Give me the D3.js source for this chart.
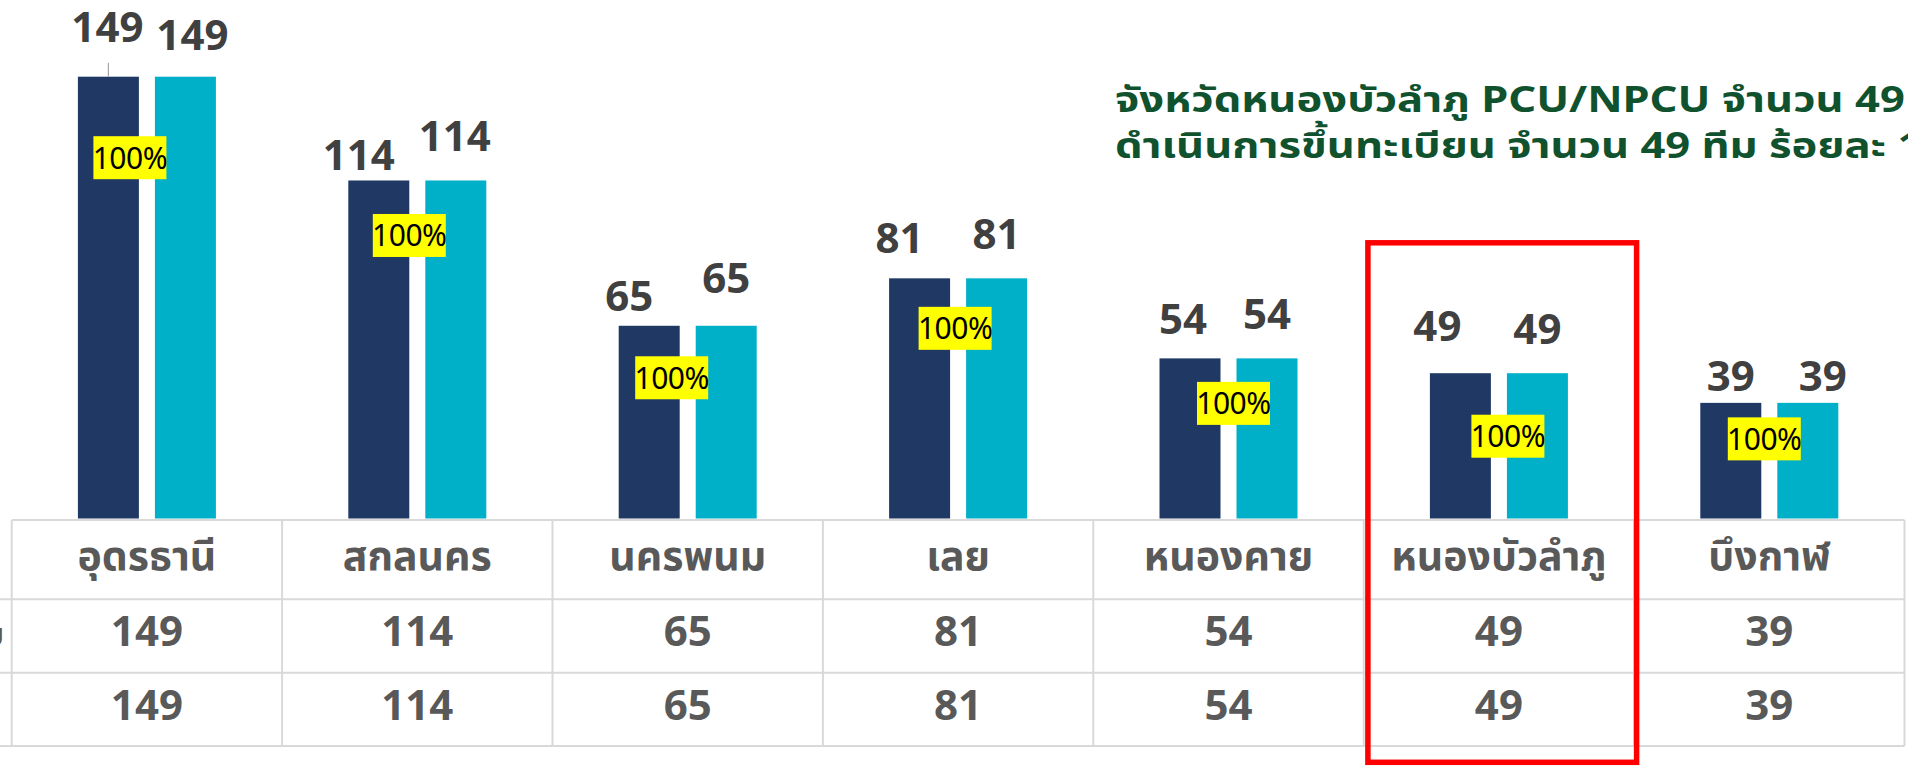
<!DOCTYPE html>
<html>
<head>
<meta charset="utf-8">
<script src="https://cdn.jsdelivr.net/npm/d3@7"></script>
<style>
  body { margin: 0; background: #fff; }
  svg { display: block; font-family: "Noto Sans", "Noto Sans Thai", sans-serif; }
</style>
</head>
<body>
<div id="chart"></div>
<script>

// Chart data
var provinces   = ["อุดรธานี", "สกลนคร", "นครพนม", "เลย", "หนองคาย", "หนองบัวลำภู", "บึงกาฬ"];
var teamsTotal  = [149, 114, 65, 81, 54, 49, 39];
var teamsReg    = [149, 114, 65, 81, 54, 49, 39];
var seriesNames = ["จำนวนทีม", "ขึ้นทะเบียน"];
var highlight   = "หนองบัวลำภู";
var titleLines  = [
  "จังหวัดหนองบัวลำภู PCU/NPCU จำนวน 49 ทีม",
  "ดำเนินการขึ้นทะเบียน จำนวน 49 ทีม ร้อยละ 100"
];

// Label nudges (dx, dy) - the labels were dragged by hand in the original
var darkNudge = [[-1, -35], [-20, -10], [-20, -15], [-20, -25], [-7, -24], [-23, -32], [0, -12]];
var cyanNudge = [[7, -27], [-1, -29], [0, -33], [0, -29], [0, -29], [0, -29], [15, -12]];
var pctNudge  = [[-17, 81], [-8, 55], [-16, 52], [-3, 50], [5, 45], [9, 63], [-5, 36]];

var W = 1908, H = 768;
var colors = ["#203864", "#00afc8"];

var svg = d3.select("#chart").append("svg")
  .attr("width", W)
  .attr("height", H);

var data = provinces.map(function(p, i) {
  return { name: p, vals: [teamsTotal[i], teamsReg[i]], i: i };
});

// Scales
var x0 = d3.scaleBand()
  .domain(provinces)
  .range([11.7, 1904.5])
  .padding(0);

var x1 = d3.scaleBand()
  .domain([0, 1])
  .range([-69, 69])
  .paddingInner(0.208);

var y = d3.scaleLinear()
  .domain([0, 149])
  .range([518.5, 76.7]);

// Title (the original font is wider, so stretch it a bit)
var title = svg.append("g")
  .attr("transform", "translate(1115,0) scale(1.21,1)");
titleLines.forEach(function(t, i) {
  title.append("text")
    .attr("x", 0)
    .attr("y", 112 + i * 46)
    .style("font-size", "36px")
    .style("font-weight", "bold")
    .style("fill", "#11522e")
    .text(t);
});

// Bars
var groups = svg.selectAll(".grp")
  .data(data)
  .enter().append("g")
  .attr("class", "grp")
  .attr("transform", function(d) { return "translate(" + (x0(d.name) + x0.bandwidth() / 2) + ",0)"; });

groups.selectAll("rect")
  .data(function(d) { return d.vals.map(function(v, k) { return { v: v, k: k }; }); })
  .enter().append("rect")
  .attr("x", function(d) { return x1(d.k); })
  .attr("y", function(d) { return y(d.v); })
  .attr("width", x1.bandwidth())
  .attr("height", function(d) { return y(0) - y(d.v); })
  .style("fill", function(d) { return colors[d.k]; });

// leader line on first dark label
svg.append("line")
  .attr("x1", x0(provinces[0]) + x0.bandwidth() / 2 + x1(0) + x1.bandwidth() / 2)
  .attr("x2", x0(provinces[0]) + x0.bandwidth() / 2 + x1(0) + x1.bandwidth() / 2)
  .attr("y1", y(teamsTotal[0]) - 14)
  .attr("y2", y(teamsTotal[0]))
  .style("stroke", "#a6a6a6")
  .style("stroke-width", 1.2);

// Value labels above bars
groups.each(function(d) {
  var g = d3.select(this);
  d.vals.forEach(function(v, k) {
    var n = k == 0 ? darkNudge[d.i] : cyanNudge[d.i];
    g.append("text")
      .attr("x", x1(k) + x1.bandwidth() / 2 + n[0])
      .attr("y", y(v) + n[1])
      .attr("text-anchor", "middle")
      .style("font-size", "42px")
      .style("font-weight", "bold")
      .style("fill", "#404040")
      .text(v);
  });

  // percentage box
  var pct = Math.round(d.vals[1] / d.vals[0] * 100) + "%";
  var n = pctNudge[d.i];
  var cy = y(d3.max(d.vals)) + n[1];
  g.append("rect")
    .attr("x", n[0] - 36.5)
    .attr("y", cy - 21.5)
    .attr("width", 73)
    .attr("height", 43)
    .style("fill", "#ffff00");
  g.append("text")
    .attr("x", n[0])
    .attr("y", cy)
    .attr("dy", "0.36em")
    .attr("text-anchor", "middle")
    .style("font-size", "30px")
    .style("letter-spacing", "-0.5px")
    .style("fill", "#000")
    .text(pct);
});

// Data table
var rowY = [520, 599.3, 672.7, 746];
var tbl = svg.append("g").style("stroke", "#d9d9d9").style("stroke-width", 2);

tbl.append("line")
  .attr("x1", x0.range()[0]).attr("x2", x0.range()[1])
  .attr("y1", rowY[0]).attr("y2", rowY[0]);
rowY.slice(1).forEach(function(ry) {
  tbl.append("line")
    .attr("x1", 0).attr("x2", x0.range()[1])
    .attr("y1", ry).attr("y2", ry);
});
provinces.concat([null]).forEach(function(p) {
  var xx = p ? x0(p) : x0.range()[1];
  tbl.append("line")
    .attr("x1", xx).attr("x2", xx)
    .attr("y1", rowY[0]).attr("y2", rowY[3]);
});

var cells = svg.append("g").attr("text-anchor", "middle").style("fill", "#595959").style("font-weight", "bold");

cells.selectAll(".hdr")
  .data(provinces)
  .enter().append("text")
  .attr("class", "hdr")
  .attr("x", function(d) { return x0(d) + x0.bandwidth() / 2; })
  .attr("y", 570)
  .style("font-size", "41px")
  .text(function(d) { return d; });

[teamsTotal, teamsReg].forEach(function(arr, r) {
  cells.selectAll(".row" + r)
    .data(arr)
    .enter().append("text")
    .attr("class", "row" + r)
    .attr("x", function(d, i) { return x0(provinces[i]) + x0.bandwidth() / 2; })
    .attr("y", r == 0 ? 645.5 : 720)
    .style("font-size", "42px")
    .text(function(d) { return d; });
});

// series name of first row, mostly cut off at the left edge
svg.append("text")
  .attr("x", 4)
  .attr("y", 645)
  .attr("text-anchor", "end")
  .style("font-size", "30px")
  .style("font-weight", "bold")
  .style("fill", "#595959")
  .text(seriesNames[0]);

// highlight box
var hx = x0(highlight);
svg.append("rect")
  .attr("x", hx + 4.2)
  .attr("y", 242.8)
  .attr("width", x0.bandwidth() - 1.7)
  .attr("height", 519.5)
  .style("fill", "none")
  .style("stroke", "#ff0000")
  .style("stroke-width", 5.5);

</script>
</body>
</html>
